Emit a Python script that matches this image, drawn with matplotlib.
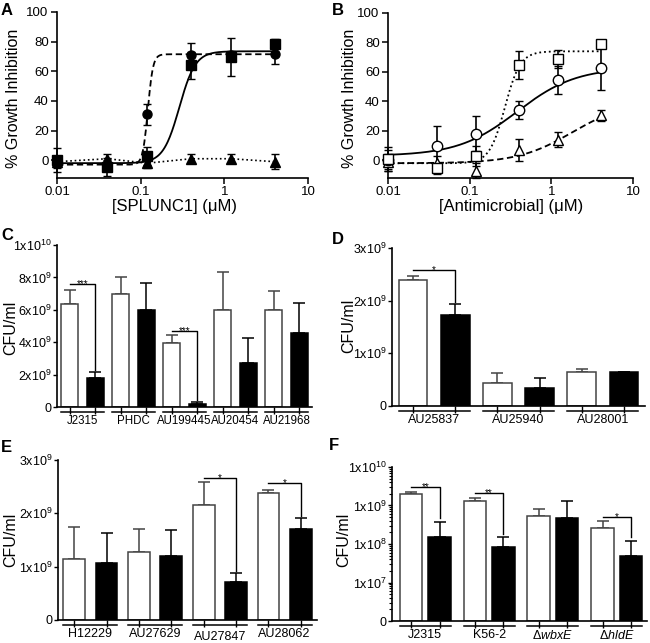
import numpy as np
import matplotlib
matplotlib.use("Agg")
import matplotlib.pyplot as plt
from matplotlib.transforms import blended_transform_factory, offset_copy

plt.rcParams['font.family'] = ['Liberation Sans', 'DejaVu Sans']
plt.rcParams['mathtext.fontset'] = 'custom'
plt.rcParams['mathtext.rm'] = 'Liberation Sans'
plt.rcParams['mathtext.it'] = 'Liberation Sans:italic'
plt.rcParams['axes.linewidth'] = 1.2

# ---------------- data ----------------
# A / B : dose response, % growth inhibition
conc = [0.01, 0.04, 0.12, 0.4, 1.2, 4]

a_circle = [-2, -3, 31, 71, 71, 72]
a_circle_err = [3, 3, 7, 8, 3, 7]
a_square = [0, -4.5, 3, 64, 69.5, 78.5]
a_square_err = [8, 6, 6, 9, 13, 3]
a_triangle = [-1, 1, -2, 1, 1, -1]
a_triangle_err = [3, 3, 3, 3, 3, 5]

b_square = [1, -5.5, 3, 64.5, 69, 79]
b_square_err = [8, 4, 7, 9.5, 6, 3]
b_circle = [0, 10, 18, 34, 54.5, 62.5]
b_circle_err = [7, 13, 12, 6, 9.5, 15]
b_triangle = [-1, -2, -7, 7, 14, 30.5]
b_triangle_err = [5, 5, 5, 7.5, 5, 3.5]

# fitted curves: bottom, top, EC50, hill slope
a_circle_fit = (-3, 71.5, 0.122, 14)
a_square_fit = (-2, 73.5, 0.29, 4.5)
b_square_fit = (-2, 74, 0.27, 4.6)
b_circle_fit = (3, 63, 0.38, 1.2)
b_triangle_fit = (-2, 40, 1.8, 1.3)

# C : CFU/ml (x1e9)
c_strains = ['J2315', 'PHDC', 'AU199445', 'AU20454', 'AU21968']
c_white = [6.35, 6.97, 3.98, 5.96, 5.96]
c_white_err = [0.85, 1.03, 0.49, 2.39, 1.19]
c_black = [1.8, 5.98, 0.2, 2.74, 4.54]
c_black_err = [0.35, 1.69, 0.1, 1.49, 1.91]
c_sig = [(0, 7.6, '***'), (2, 4.68, '***')]

# D
d_strains = ['AU25837', 'AU25940', 'AU28001']
d_white = [2.40, 0.43, 0.64]
d_white_err = [0.06, 0.19, 0.06]
d_black = [1.73, 0.35, 0.65]
d_black_err = [0.20, 0.18, 0.0]
d_sig = [(0, 2.58, '*')]

# E
e_strains = ['H12229', 'AU27629', 'AU27847', 'AU28062']
e_white = [1.14, 1.27, 2.16, 2.375]
e_white_err = [0.61, 0.43, 0.43, 0.065]
e_black = [1.06, 1.2, 0.71, 1.71]
e_black_err = [0.58, 0.49, 0.165, 0.2]
e_sig = [(2, 2.66, '*'), (3, 2.575, '*')]

# F (log scale, CFU/ml)
f_strains = ['J2315', 'K56-2', 'Δ$\\mathit{wbxE}$', 'Δ$\\mathit{hldE}$']
f_white = [2.0e9, 1.3e9, 5.3e8, 2.6e8]
f_white_err = [0.2e9, 0.3e9, 2.8e8, 1.3e8]
f_black = [1.48e8, 8.5e7, 4.8e8, 5.0e7]
f_black_err = [2.2e8, 6.3e7, 8.2e8, 7.0e7]
f_sig = [(0, 3.1e9, '**'), (1, 2.1e9, '**'), (3, 5.1e8, '*')]


def hill(x, bottom, top, ec50, n):
    return bottom + (top - bottom) / (1 + (ec50 / x) ** n)


W, H = 650, 643
fig = plt.figure(figsize=(6.5, 6.43), dpi=100)


def add_ax(l, t, r, b):
    ax = fig.add_axes([l / W, 1 - b / H, (r - l) / W, (b - t) / H])
    ax.spines['top'].set_visible(False)
    ax.spines['right'].set_visible(False)
    return ax


def points(ax, y, err, marker, ms, filled, ls=None):
    mfc = 'black' if filled else 'white'
    cont = ax.errorbar(conc, y, yerr=err, fmt=marker, ms=ms, mfc=mfc, mec='black', mew=1.0,
                       ecolor='black', elinewidth=1.2, capsize=3, capthick=1.2, zorder=4,
                       linestyle='none')
    for art in cont.get_children():
        art.set_clip_on(False)
    if ls is not None:
        ax.plot(conc, y, ls=ls, color='black', lw=1.2, zorder=3)


def fit_line(ax, params, ls):
    xs = np.logspace(np.log10(conc[0]), np.log10(conc[-1]), 300)
    ax.plot(xs, hill(xs, *params), ls=ls, color='black', lw=1.3, zorder=3, clip_on=False)


def dose_axes(ax):
    ax.set_xscale('log')
    ax.set_xlim(0.01, 10)
    ax.set_ylim(-12, 100)
    ax.set_xticks([0.01, 0.1, 1, 10], ['0.01', '0.1', '1', '10'])
    ax.minorticks_off()
    ax.set_yticks([0, 20, 40, 60, 80, 100])
    ax.tick_params(labelsize=9.5, length=4, width=1.1, direction='out', pad=2)


# ---------- A ----------
axA = add_ax(57, 12, 308, 178)
dose_axes(axA)
fit_line(axA, a_circle_fit, (0, (3.5, 2)))
fit_line(axA, a_square_fit, '-')
points(axA, a_triangle, a_triangle_err, '^', 6.5, True, ls=':')
points(axA, a_circle, a_circle_err, 'o', 6.5, True)
points(axA, a_square, a_square_err, 's', 6.5, True)

# ---------- B ----------
axB = add_ax(388, 13, 633, 178)
dose_axes(axB)
fit_line(axB, b_square_fit, ':')
fit_line(axB, b_circle_fit, '-')
fit_line(axB, b_triangle_fit, (0, (3.5, 2)))
points(axB, b_triangle, b_triangle_err, '^', 7, False)
points(axB, b_circle, b_circle_err, 'o', 7.5, False)
points(axB, b_square, b_square_err, 's', 6.5, False)


# ---------- bar panels ----------
def bar_panel(ax, xw, xb, white, werr, black, berr, width, labels, sig, log=False,
              drop=None, labsize=9):
    xw = np.asarray(xw, float)
    xb = np.asarray(xb, float)
    white = np.asarray(white, float)
    black = np.asarray(black, float)
    base = 1e6 if log else 0.0
    n = len(white)
    ax.errorbar(xw, white, yerr=[np.zeros(n), werr], fmt='none', ecolor='#444444',
                elinewidth=1.1, capsize=4, capthick=1.1, zorder=1)
    ax.errorbar(xb, black, yerr=[np.zeros(n), berr], fmt='none', ecolor='black',
                elinewidth=1.1, capsize=4, capthick=1.1, zorder=1)
    ax.bar(xw, white - base, width, bottom=base, color='white', edgecolor='#444444',
           lw=1.1, zorder=2)
    ax.bar(xb, black - base, width, bottom=base, color='black', edgecolor='black',
           lw=1.1, zorder=2)
    ticks = np.sort(np.concatenate([xw, xb]))
    ax.set_xticks(ticks)
    ax.tick_params(axis='x', length=5, width=1.0, direction='out', labelbottom=False)
    ax.tick_params(axis='y', labelsize=9, length=3, width=1.0, direction='out', pad=1)
    trans = blended_transform_factory(ax.transData, ax.transAxes)
    line_tr = offset_copy(trans, fig=fig, x=0, y=-5, units='dots')
    for i, lab in enumerate(labels):
        ax.plot([xw[i] - width / 2, xb[i] + width / 2], [0, 0], color='black', lw=1.1,
                transform=line_tr, clip_on=False)
        dy = -8 - (drop[i] if drop else 0)
        txt_tr = offset_copy(trans, fig=fig, x=0, y=dy, units='dots')
        ax.text((xw[i] + xb[i]) / 2, 0, lab, transform=txt_tr, ha='center', va='top',
                fontsize=labsize)
    tops = black + np.asarray(berr)
    for g, h, stars in sig:
        if log:
            end = tops[g] * 1.25
        else:
            end = tops[g] + 0.015 * ax.get_ylim()[1]
        ax.plot([xw[g], xb[g], xb[g]], [h, h, end], color='black', lw=1.0, zorder=3)
        st_tr = offset_copy(ax.transData, fig=fig, x=0, y=-3, units='dots')
        ax.text((xw[g] + xb[g]) / 2, h, stars, transform=st_tr, ha='center',
                va='baseline', fontsize=7)


def sci(m, e):
    return '%dx10$^{%d}$' % (m, e)


# ---------- C ----------
axC = add_ax(57, 245, 312, 407)
axC.set_ylim(0, 10)
axC.set_xlim(-0.5, 9.5)
axC.set_yticks([0, 2, 4, 6, 8, 10],
               ['0', sci(2, 9), sci(4, 9), sci(6, 9), sci(8, 9), sci(1, 10)])
bar_panel(axC, np.arange(5) * 2, np.arange(5) * 2 + 1, c_white, c_white_err, c_black,
          c_black_err, 0.67, c_strains, c_sig, labsize=8.3)

# ---------- D ----------
axD = add_ax(392, 248, 645, 406)
axD.set_ylim(0, 3)
axD.set_xlim(-0.5, 5.5)
axD.set_yticks([0, 1, 2, 3], ['0', sci(1, 9), sci(2, 9), sci(3, 9)])
bar_panel(axD, np.arange(3) * 2, np.arange(3) * 2 + 1, d_white, d_white_err, d_black,
          d_black_err, 0.68, d_strains, d_sig)

# ---------- E ----------
axE = add_ax(58, 460, 317, 620)
axE.set_ylim(0, 3)
axE.set_xlim(-0.5, 7.5)
axE.set_yticks([0, 1, 2, 3], ['0', sci(1, 9), sci(2, 9), sci(3, 9)])
bar_panel(axE, np.arange(4) * 2, np.arange(4) * 2 + 1, e_white, e_white_err, e_black,
          e_black_err, 0.67, e_strains, e_sig, drop=[0, 0, 3, 0])

# ---------- F ----------
axF = add_ax(392, 467, 647, 621)
axF.set_yscale('log')
axF.set_ylim(1e6, 1e10)
axF.set_xlim(-1.17, 7.78)
grp = np.arange(4) * 2.24
bar_panel(axF, grp - 0.5, grp + 0.5, f_white, f_white_err, f_black, f_black_err, 0.79,
          f_strains, f_sig, log=True)
axF.set_yticks([1e6, 1e7, 1e8, 1e9, 1e10], ['0', sci(1, 7), sci(1, 8), sci(1, 9), sci(1, 10)])
axF.yaxis.set_minor_locator(matplotlib.ticker.LogLocator(base=10, subs=np.arange(2, 10)))
axF.yaxis.set_minor_formatter(matplotlib.ticker.NullFormatter())
axF.tick_params(axis='y', which='minor', length=2, width=0.8)

# ---------- labels ----------
for lab, x, y in [('A', 1, 3), ('B', 332, 3), ('C', 1, 228), ('D', 332, 232),
                  ('E', 1, 440), ('F', 329, 438)]:
    fig.text(x / W, 1 - y / H, lab, fontsize=12, fontweight='bold', ha='left', va='top')

for txt, x, y in [('% Growth Inhibition', 14, 98), ('% Growth Inhibition', 350, 98),
                  ('CFU/ml', 11, 328), ('CFU/ml', 349, 326),
                  ('CFU/ml', 11, 540), ('CFU/ml', 344, 540)]:
    fig.text(x / W, 1 - y / H, txt, rotation=90, ha='center', va='center', fontsize=11.5)

fig.text(174 / W, 1 - 207 / H, '[SPLUNC1] (μM)', ha='center', va='center', fontsize=12)
fig.text(511 / W, 1 - 207 / H, '[Antimicrobial] (μM)', ha='center', va='center', fontsize=12)

fig.savefig('out.png', dpi=100)
